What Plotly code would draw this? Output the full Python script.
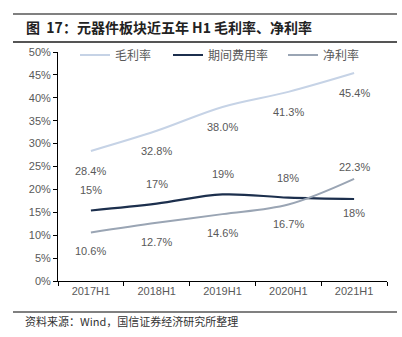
import plotly.graph_objects as go

categories = ["2017H1", "2018H1", "2019H1", "2020H1", "2021H1"]
gross_margin = [28.4, 32.8, 38.0, 41.3, 45.4]
expense_rate = [15.4, 16.9, 18.9, 18.2, 17.9]
expense_labels = ["15%", "17%", "19%", "18%", "18%"]
net_margin = [10.6, 12.7, 14.6, 16.7, 22.3]
y_ticks = [0, 5, 10, 15, 20, 25, 30, 35, 40, 45, 50]
y_tick_labels = [f"{v}%" for v in y_ticks]

c_gross = "#C6D3E6"
c_exp = "#1C2F4D"
c_net = "#9AA5B4"
txt = "#595959"
font_lat = "Liberation Sans, Arial, Noto Sans CJK SC"
font_cjk = "Noto Sans CJK SC, Liberation Sans"

fig = go.Figure()
fig.add_trace(go.Scatter(x=categories, y=gross_margin, mode="lines", name="毛利率",
                         line=dict(color=c_gross, width=2, shape="spline"), legend="legend"))
fig.add_trace(go.Scatter(x=categories, y=expense_rate, mode="lines", name="期间费用率",
                         line=dict(color=c_exp, width=2.2, shape="spline"), legend="legend2"))
fig.add_trace(go.Scatter(x=categories, y=net_margin, mode="lines", name="净利率",
                         line=dict(color=c_net, width=2, shape="spline"), legend="legend3"))

ann = []
for c, v in zip(categories, gross_margin):
    ann.append(dict(x=c, y=v, text=f"{v:.1f}%", showarrow=False, yshift=-20,
                    font=dict(size=11, color=txt, family=font_lat)))
for i, (c, v, t) in enumerate(zip(categories, expense_rate, expense_labels)):
    ann.append(dict(x=c, y=v, text=t, showarrow=False, yshift=(-14 if i == 4 else 20),
                    font=dict(size=11, color=txt, family=font_lat)))
for i, (c, v) in enumerate(zip(categories, net_margin)):
    ann.append(dict(x=c, y=v, text=f"{v:.1f}%", showarrow=False, yshift=(12 if i == 4 else -19),
                    font=dict(size=11, color=txt, family=font_lat)))

L, R, T, B = 58, 15, 52, 56
W, H = 402, 337
pw, ph = W - L - R, H - T - B
def px(x):
    return (x - L) / pw
def py(y):
    return (H - B - y) / ph

ann.append(dict(xref="paper", yref="paper", x=px(24), y=py(27), xanchor="left", yanchor="middle",
                text="<b>图  17：元器件板块近五年 H1 毛利率、净利率</b>", showarrow=False,
                font=dict(size=14, color="#222222", family=font_cjk)))
ann.append(dict(xref="paper", yref="paper", x=px(23), y=py(321), xanchor="left", yanchor="middle",
                text="资料来源：Wind，国信证券经济研究所整理", showarrow=False,
                font=dict(size=11, color="#333333", family=font_cjk)))

shapes = [
    dict(type="line", xref="paper", yref="paper", x0=px(13), x1=px(397), y0=py(14), y1=py(14),
         line=dict(color="#808080", width=2)),
    dict(type="line", xref="paper", yref="paper", x0=px(13), x1=px(397), y0=py(42), y1=py(42),
         line=dict(color="#555555", width=2)),
    dict(type="line", xref="paper", yref="paper", x0=px(13), x1=px(397), y0=py(312), y1=py(312),
         line=dict(color="#808080", width=2)),
]

leg_common = dict(orientation="h", yanchor="middle", xanchor="left", bgcolor="rgba(0,0,0,0)",
                  font=dict(size=12, color=txt, family=font_cjk))
fig.update_layout(
    width=W, height=H,
    margin=dict(l=L, r=R, t=T, b=B),
    paper_bgcolor="white", plot_bgcolor="white",
    showlegend=True,
    legend=dict(x=px(75), y=py(55), **leg_common),
    legend2=dict(x=px(168), y=py(55), **leg_common),
    legend3=dict(x=px(283), y=py(55), **leg_common),
    annotations=ann,
    shapes=shapes,
    xaxis=dict(type="category", range=[-0.5, 4.5], showgrid=False, showline=True,
               linecolor="#000000", linewidth=1, ticks="outside", tickson="boundaries",
               ticklen=4, tickcolor="#000000", tickfont=dict(size=11, color=txt, family=font_lat)),
    yaxis=dict(range=[0, 50], tickvals=y_ticks, ticktext=y_tick_labels, showgrid=False,
               showline=True, linecolor="#000000", linewidth=1, ticks="outside", ticklen=4,
               tickcolor="#000000", zeroline=False,
               tickfont=dict(size=11, color=txt, family=font_lat)),
)

fig.write_html("out.html")
